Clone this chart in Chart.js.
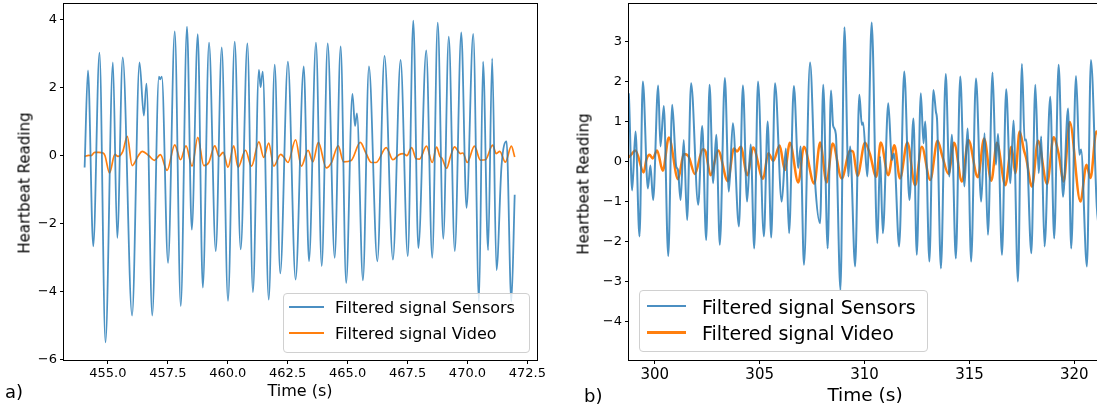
<!DOCTYPE html>
<html>
<head>
<meta charset="utf-8">
<script src="https://cdn.jsdelivr.net/npm/chart.js@4.4.1/dist/chart.umd.min.js"></script>
<style>
  body { margin: 0; width: 1097px; height: 410px; position: relative; overflow: hidden; background: #fff;
         font-family: "DejaVu Sans", sans-serif; color: #000; }
  .cv { position: absolute; top: 0; height: 410px; }
  .lbl { position: absolute; white-space: nowrap; line-height: 1; }
  .ytitle { transform: translate(-50%, -50%) rotate(-90deg); }
  .xtitle { transform: translate(-50%, -50%); }
  .leg { position: absolute; border: 1px solid #d0d0d0; border-radius: 4px; background: rgba(255,255,255,0.8); }
  .leg .sw { position: absolute; }
  .leg .tx { position: absolute; white-space: nowrap; line-height: 1; transform: translateY(-50%); }
</style>
</head>
<body>
<div class="cv" style="left:0;width:548px"><canvas id="chartA"></canvas></div>
<div class="cv" style="left:548px;width:549px"><canvas id="chartB"></canvas></div>

<div class="lbl ytitle" style="left:25px;top:183px;font-size:15px">Heartbeat Reading</div>
<div class="lbl xtitle" style="left:300px;top:391px;font-size:16px">Time (s)</div>
<div class="lbl" style="left:5px;top:383px;font-size:18px">a)</div>

<div class="lbl ytitle" style="left:584px;top:184px;font-size:15px">Heartbeat Reading</div>
<div class="lbl xtitle" style="left:865px;top:395px;font-size:18.5px">Time (s)</div>
<div class="lbl" style="left:584px;top:387px;font-size:18px">b)</div>

<div class="leg" style="left:283px;top:293px;width:245px;height:58px">
  <div class="sw" style="left:5px;top:12px;width:35px;height:2px;background:#4b8fc2"></div>
  <div class="tx" style="left:51px;top:14px;font-size:16px">Filtered signal Sensors</div>
  <div class="sw" style="left:5px;top:38px;width:35px;height:2px;background:#ff7f0e"></div>
  <div class="tx" style="left:51px;top:40px;font-size:16px">Filtered signal Video</div>
</div>

<div class="leg" style="left:639px;top:290px;width:287px;height:60px">
  <div class="sw" style="left:7px;top:14px;width:39px;height:2px;background:#4b8fc2"></div>
  <div class="tx" style="left:62px;top:16px;font-size:19px">Filtered signal Sensors</div>
  <div class="sw" style="left:7px;top:40px;width:39px;height:3px;background:#ff7f0e"></div>
  <div class="tx" style="left:62px;top:42px;font-size:19px">Filtered signal Video</div>
</div>

<script>
// ---- panel a) : extrema (time s, reading)
const sensorsATime = [454.03, 454.17, 454.39, 454.65, 454.90, 455.21, 455.39, 455.62, 456.01, 456.32, 456.50, 456.61,
  456.85, 457.13, 457.18, 457.25, 457.51, 457.79, 458.04, 458.30, 458.50, 458.75, 458.96, 459.22, 459.50, 459.75,
  460.01, 460.29, 460.54, 460.82, 461.05, 461.30, 461.37, 461.46, 461.71, 461.96, 462.19, 462.51, 462.83, 463.17,
  463.39, 463.68, 463.92, 464.17, 464.46, 464.71, 464.94, 465.20, 465.31, 465.39, 465.64, 465.89, 466.24, 466.54,
  466.89, 467.21, 467.51, 467.74, 467.95, 468.28, 468.53, 468.76, 468.99, 469.22, 469.47, 469.74, 469.96, 470.24,
  470.48, 470.65, 470.86, 471.03, 471.21, 471.42, 471.63, 471.83, 471.97];
const sensorsAVal = [-0.35, 2.51, -2.67, 3.04, -5.50, 2.75, -2.42, 2.90, -4.71, 2.75, 1.18, 2.12,
  -4.71, 2.33, 2.25, 2.33, -3.16, 3.66, -4.43, 3.80, -2.18, 3.58, -3.89, 3.33, -2.81, 3.19,
  -4.28, 3.36, -2.76, 3.31, -4.02, 2.53, 2.02, 2.48, -4.24, 2.68, -3.47, 2.77, -3.65, 2.63,
  -3.11, 3.33, -3.25, 3.31, -3.01, 3.22, -3.75, 1.82, 0.88, 1.25, -3.67, 2.63, -3.11, 2.94,
  -3.06, 2.82, -2.96, 3.98, -2.72, 3.10, -3.01, 3.92, -2.45, 3.51, -2.81, 3.63, -1.54, 3.59,
  -4.30, 2.77, -2.78, 2.87, -3.37, -0.30, 0.42, -4.30, -1.15];

const videoATime = [454.03, 454.20, 454.30, 454.45, 454.62, 454.80, 454.88, 455.07, 455.29, 455.42, 455.62, 455.81,
  456.01, 456.27, 456.43, 456.71, 456.94, 457.19, 457.47, 457.79, 458.03, 458.26, 458.51, 458.75, 459.00, 459.21,
  459.46, 459.64, 459.81, 460.01, 460.25, 460.43, 460.74, 460.99, 461.30, 461.50, 461.71, 461.92, 462.21, 462.35,
  462.51, 462.83, 463.07, 463.35, 463.55, 463.78, 464.11, 464.32, 464.61, 464.83, 465.15, 465.53, 465.75, 465.99,
  466.19, 466.61, 466.89, 467.14, 467.33, 467.47, 467.67, 467.86, 468.00, 468.29, 468.53, 468.71, 468.85, 468.94,
  469.13, 469.30, 469.46, 469.71, 469.81, 469.99, 470.29, 470.54, 470.75, 471.05, 471.20, 471.35, 471.58, 471.83,
  471.97];
const videoAVal = [-0.02, 0.01, 0.0, 0.10, 0.10, 0.08, 0.0, -0.51, 0.04, -0.02, 0.12, 0.57,
  -0.29, 0.0, 0.13, 0.0, -0.14, 0.03, -0.43, 0.32, -0.12, 0.29, -0.31, 0.54, -0.29, -0.20,
  0.29, -0.02, 0.10, -0.34, 0.29, -0.34, 0.16, -0.31, 0.41, -0.05, 0.37, -0.31, 0.04, -0.05,
  -0.20, 0.47, -0.31, 0.16, -0.18, 0.39, -0.36, -0.21, 0.29, -0.18, -0.14, 0.39, 0.10, -0.20,
  -0.20, 0.24, -0.12, 0.03, 0.06, 0.0, 0.24, -0.09, -0.10, 0.28, -0.20, 0.25, -0.02, -0.08,
  -0.37, 0.0, 0.26, 0.06, 0.08, -0.20, 0.28, -0.13, -0.12, 0.31, 0.06, 0.13, -0.19, 0.28,
  -0.04];

// ---- panel b)
const sensorsBTime = [298.70, 298.76, 298.92, 299.08, 299.27, 299.43, 299.67, 299.79, 299.92, 300.16, 300.27, 300.43,
  300.64, 300.83, 301.02, 301.10, 301.23, 301.38, 301.54, 301.73, 302.07, 302.26, 302.45, 302.61, 302.78, 302.93,
  303.10, 303.34, 303.53, 303.72, 304.01, 304.20, 304.40, 304.57, 304.74, 304.92, 305.20, 305.38, 305.55, 305.73,
  306.05, 306.25, 306.40, 306.63, 306.84, 306.95, 307.11, 307.40, 307.64, 307.88, 308.03, 308.24, 308.40, 308.50,
  308.63, 308.85, 309.04, 309.23, 309.31, 309.55, 309.75, 309.87, 309.93, 310.13, 310.34, 310.61, 310.74, 310.87,
  311.13, 311.30, 311.40, 311.65, 311.89, 312.14, 312.33, 312.49, 312.68, 312.81, 312.89, 313.09, 313.28, 313.40,
  313.46, 313.64, 313.87, 314.04, 314.16, 314.35, 314.56, 314.76, 314.91, 315.08, 315.31, 315.56, 315.72, 315.88,
  316.10, 316.26, 316.36, 316.55, 316.75, 316.95, 317.10, 317.31, 317.50, 317.63, 317.70, 317.95, 318.14, 318.30,
  318.42, 318.58, 318.85, 319.04, 319.25, 319.46, 319.70, 319.85, 320.08, 320.24, 320.32, 320.60, 320.79, 321.07,
  321.20];
const sensorsBVal = [1.90, 1.71, -0.72, 0.75, -1.87, 2.00, -0.67, -0.10, -0.96, 1.90, 0.38, 1.39,
  -2.36, 1.42, -0.12, -0.20, -0.96, 0.54, -1.46, 1.96, -1.08, 0.89, -1.96, 1.92, -0.54, 0.67,
  -2.08, 2.09, -0.75, 0.96, -1.62, 1.90, -1.00, 0.43, -2.17, 2.00, -1.87, 1.00, -1.90, 1.96,
  -1.00, 0.33, -1.79, 1.89, -0.16, 0.38, -2.58, 2.48, -0.50, -1.54, 1.92, -2.17, 1.78, 0.90,
  0.69, -3.21, 3.36, -0.37, 0.38, -2.62, 1.67, 0.92, 0.98, -0.37, 3.48, -2.04, 0.13, -1.79,
  1.46, 0.04, 0.20, -2.12, 2.25, -0.96, 1.08, -2.33, 1.71, 0.46, 1.00, -2.50, 1.79, 1.25,
  1.00, -2.67, 2.19, -0.37, 0.67, -2.42, 2.13, -0.62, 0.83, -2.50, 2.08, -1.00, 0.71, -1.83,
  2.23, -0.08, 0.69, -2.33, 1.81, -0.54, 1.03, -3.00, 2.44, 0.53, 0.55, -2.29, 1.92, -0.29,
  0.63, -2.12, 1.62, -1.92, 2.42, -0.88, 1.33, -2.17, 2.14, 0.17, 0.30, -2.62, 2.54, -1.12,
  -1.80];

const videoBTime = [298.70, 298.80, 299.08, 299.47, 299.60, 299.75, 299.90, 300.11, 300.38, 300.67, 301.11, 301.38,
  301.60, 301.91, 302.29, 302.42, 302.66, 303.02, 303.48, 303.77, 303.92, 304.10, 304.41, 304.69, 305.16, 305.41,
  305.65, 305.95, 306.20, 306.44, 306.84, 307.11, 307.60, 307.88, 308.19, 308.48, 308.91, 309.31, 309.45, 309.66,
  310.02, 310.25, 310.56, 310.77, 311.13, 311.42, 311.69, 312.04, 312.41, 312.73, 313.13, 313.48, 313.70, 314.00,
  314.27, 314.64, 314.95, 315.40, 315.70, 316.04, 316.31, 316.71, 317.00, 317.19, 317.39, 317.60, 317.70, 317.98,
  318.27, 318.70, 319.01, 319.25, 319.49, 319.78, 320.29, 320.58, 320.77, 321.05, 321.20];
const videoBVal = [0.10, 0.13, 0.28, -0.27, 0.05, 0.17, 0.08, 0.28, -0.23, 0.60, -0.44, 0.19,
  0.14, -0.31, 0.31, 0.25, -0.34, 0.28, -0.49, 0.33, 0.25, 0.37, -0.34, 0.35, -0.43, 0.21,
  0.02, 0.40, -0.21, 0.47, -0.52, 0.37, -0.55, 0.48, -0.52, 0.45, -0.42, 0.27, 0.25, -0.36,
  0.47, 0.20, -0.38, 0.48, -0.34, 0.41, -0.42, 0.48, -0.59, 0.37, -0.46, 0.52, 0.15, -0.31,
  0.47, -0.50, 0.54, -0.39, 0.58, -0.48, 0.47, -0.59, 0.37, -0.29, 0.75, 0.28, 0.10, -0.62,
  0.52, -0.56, 0.61, 0.20, -0.50, 0.99, -1.00, -0.08, -0.41, 0.75, 0.60];

const ticksAX = [455.0, 457.5, 460.0, 462.5, 465.0, 467.5, 470.0, 472.5];
const ticksAY = [-6, -4, -2, 0, 2, 4];
const ticksBX = [300, 305, 310, 315, 320];
const ticksBY = [-4, -3, -2, -1, 0, 1, 2, 3];

const BLUE = 'rgba(31,119,180,0.8)';
const ORANGE = '#ff7f0e';

Chart.defaults.font.family = '"DejaVu Sans", sans-serif';
Chart.defaults.color = '#000';

function pts(xs, ys) { return xs.map((x, i) => ({ x: x, y: ys[i] })); }
function fmtMinus(s) { return String(s).replace('-', '\u2212'); }

const framePlugin = {
  id: 'frame',
  afterDraw(chart) {
    const a = chart.chartArea, c = chart.ctx;
    c.save();
    c.strokeStyle = '#000';
    c.lineWidth = 1;
    c.strokeRect(Math.round(a.left) - 0.5, Math.round(a.top) - 0.5,
      Math.round(a.right - a.left) + 1, Math.round(a.bottom - a.top) + 1);
    c.restore();
  }
};

// keep the plot box where the reference has it: no extra room for edge labels
function noEdgePad(s) { s.paddingTop = 0; s.paddingBottom = 0; s.paddingLeft = 0; s.paddingRight = 0; }

function makePanel(id, p) {
  new Chart(document.getElementById(id), {
    type: 'line',
    data: {
      datasets: [
        { label: 'Filtered signal Sensors', data: pts(p.sx, p.sy), borderColor: BLUE,
          borderWidth: p.lw[0], pointRadius: 0, cubicInterpolationMode: 'monotone' },
        { label: 'Filtered signal Video', data: pts(p.vx, p.vy), borderColor: ORANGE,
          borderWidth: p.lw[1], pointRadius: 0, cubicInterpolationMode: 'monotone' }
      ]
    },
    options: {
      responsive: true,
      maintainAspectRatio: false,
      animation: false,
      events: [],
      layout: { padding: { left: 0, top: 4, right: p.padRight, bottom: 0 } },
      plugins: { legend: { display: false }, tooltip: { enabled: false } },
      scales: {
        x: {
          type: 'linear', min: p.xmin, max: p.xmax,
          afterBuildTicks: s => { s.ticks = p.tx.map(v => ({ value: v })); },
          afterFit: s => { s.height = 50; noEdgePad(s); },
          grid: { drawOnChartArea: false, drawTicks: true, tickLength: 4, color: '#000' },
          border: { display: false },
          ticks: { font: { size: p.xfs }, padding: 2, maxRotation: 0, autoSkip: false,
            callback: v => p.xfmt(v) }
        },
        y: {
          type: 'linear', min: p.ymin, max: p.ymax,
          afterBuildTicks: s => { s.ticks = p.ty.map(v => ({ value: v })); },
          afterFit: s => { s.width = p.yw; noEdgePad(s); },
          grid: { drawOnChartArea: false, drawTicks: true, tickLength: 4, color: '#000' },
          border: { display: false },
          ticks: { font: { size: 13 }, padding: 3, autoSkip: false, callback: v => fmtMinus(v) }
        }
      }
    },
    plugins: [framePlugin]
  });
}

makePanel('chartA', {
  sx: sensorsATime, sy: sensorsAVal, vx: videoATime, vy: videoAVal,
  tx: ticksAX, ty: ticksAY, xmin: 453.17, xmax: 472.9, ymin: -6.02, ymax: 4.47,
  yw: 64, padRight: 11, xfs: 13, lw: [1.8, 1.7], xfmt: v => v.toFixed(1)
});
makePanel('chartB', {
  sx: sensorsBTime, sy: sensorsBVal, vx: videoBTime, vy: videoBVal,
  tx: ticksBX, ty: ticksBY, xmin: 298.77, xmax: 321.08, ymin: -4.96, ymax: 3.94,
  yw: 81, padRight: 0, xfs: 15, lw: [2, 2.5], xfmt: v => String(v)
});
</script>
</body>
</html>
